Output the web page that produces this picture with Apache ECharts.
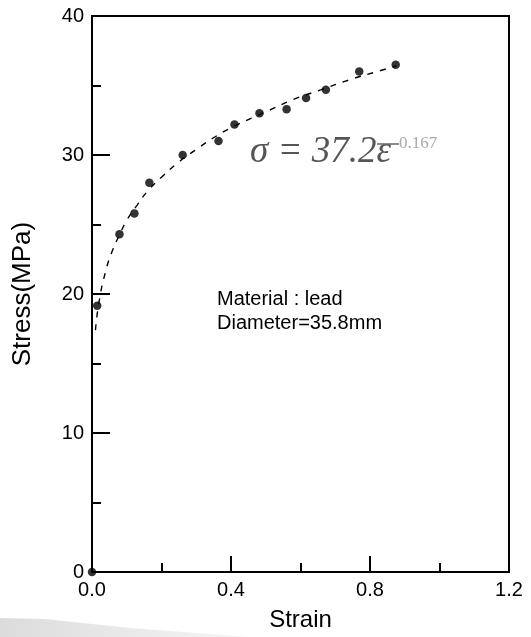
<!DOCTYPE html>
<html>
<head>
<meta charset="utf-8">
<script src="https://cdn.jsdelivr.net/npm/echarts@6/dist/echarts.min.js"></script>
<style>
  html, body { margin: 0; padding: 0; background: #fff; }
  #chart { width: 531px; height: 637px; }
</style>
</head>
<body>
<div id="chart"></div>
<script>
  // measured points
  var strain = [0, 0.015, 0.079, 0.122, 0.165, 0.261, 0.364, 0.41, 0.482, 0.56, 0.616, 0.673, 0.769, 0.874];
  var stress = [0, 19.15, 24.3, 25.8, 28.0, 30.0, 31.0, 32.2, 33.0, 33.3, 34.1, 34.7, 36.0, 36.5];

  // dashed fit curve
  var fitStrain = [0.01, 0.02, 0.04, 0.06, 0.08, 0.10, 0.13, 0.16, 0.20, 0.25, 0.30, 0.36, 0.42, 0.50, 0.58, 0.66, 0.74, 0.82, 0.875];
  var fitStress = [17.4, 19.4, 21.7, 23.2, 24.3, 25.3, 26.4, 27.4, 28.4, 29.5, 30.4, 31.4, 32.2, 33.1, 34.0, 34.7, 35.4, 36.0, 36.4];

  var xTicks = ['0.0', '0.4', '0.8', '1.2'];
  var yTicks = ['0', '10', '20', '30', '40'];

  var pts = strain.map(function (v, i) { return [v, stress[i]]; });
  var fit = fitStrain.map(function (v, i) { return [v, fitStress[i]]; });

  var myChart = echarts.init(document.getElementById('chart'));
  var font = 'Liberation Sans, Arial, sans-serif';
  var serif = 'Liberation Serif, Times New Roman, serif';

  var option = {
    animation: false,
    backgroundColor: '#fff',
    grid: {
      left: 92, right: 22, top: 16, bottom: 62,
      show: true, borderColor: '#000', borderWidth: 2
    },
    xAxis: {
      type: 'value', min: 0, max: 1.2, interval: 0.4,
      name: 'Strain', nameLocation: 'middle', nameGap: 36,
      nameTextStyle: { fontFamily: font, fontSize: 24, color: '#000' },
      axisLine: { lineStyle: { color: '#000', width: 2 } },
      axisTick: { inside: true, length: 16, lineStyle: { color: '#000', width: 2 } },
      minorTick: { show: true, splitNumber: 2, length: 9, lineStyle: { color: '#000', width: 2 } },
      splitLine: { show: false },
      axisLabel: {
        fontFamily: font, fontSize: 20, color: '#000', margin: 8,
        formatter: function (v) { return xTicks[Math.round(v / 0.4)]; }
      }
    },
    yAxis: {
      type: 'value', min: 0, max: 40, interval: 10,
      name: 'Stress(MPa)', nameLocation: 'middle', nameGap: 56,
      nameTextStyle: { fontFamily: font, fontSize: 26, color: '#000' },
      axisLine: { show: true, lineStyle: { color: '#000', width: 2 } },
      axisTick: { show: true, inside: true, length: 18, lineStyle: { color: '#000', width: 2 } },
      minorTick: { show: true, splitNumber: 2, length: 9, lineStyle: { color: '#000', width: 2 } },
      splitLine: { show: false },
      axisLabel: {
        fontFamily: font, fontSize: 20, color: '#000', margin: 8,
        formatter: function (v) { return yTicks[Math.round(v / 10)]; }
      }
    },
    series: [
      {
        type: 'line', data: fit, smooth: true, showSymbol: false,
        lineStyle: { color: '#000', width: 1.4, type: [6, 7] },
        z: 2
      },
      {
        type: 'scatter', data: pts, symbol: 'circle', symbolSize: 8.5,
        itemStyle: { color: '#000' }, clip: false, z: 3
      }
    ],
    graphic: [
      {
        type: 'polygon', silent: true, z: -1,
        shape: { points: [[0, 618], [45, 619], [130, 628], [250, 637], [0, 637]] },
        style: {
          fill: new echarts.graphic.LinearGradient(0, 0, 1, 0, [
            { offset: 0, color: '#dcdcdc' },
            { offset: 1, color: '#f6f6f6' }
          ])
        }
      },
      {
        type: 'text', left: 217, top: 287,
        style: {
          text: 'Material : lead\nDiameter=35.8mm',
          font: '20px ' + font, fill: '#000', lineHeight: 24
        }
      },
      {
        type: 'text', left: 250, top: 134,
        style: {
          text: 'σ = 37.2ε',
          font: 'italic 37px ' + serif, fill: '#555'
        }
      },
      {
        type: 'text', left: 399, top: 135,
        style: {
          text: '0.167',
          font: '17px ' + serif, fill: '#aaa'
        }
      },
      {
        type: 'line', silent: true,
        shape: { x1: 377, y1: 144, x2: 399, y2: 144 },
        style: { stroke: '#666', lineWidth: 1.5 }
      }
    ]
  };

  myChart.setOption(option);
</script>
</body>
</html>
